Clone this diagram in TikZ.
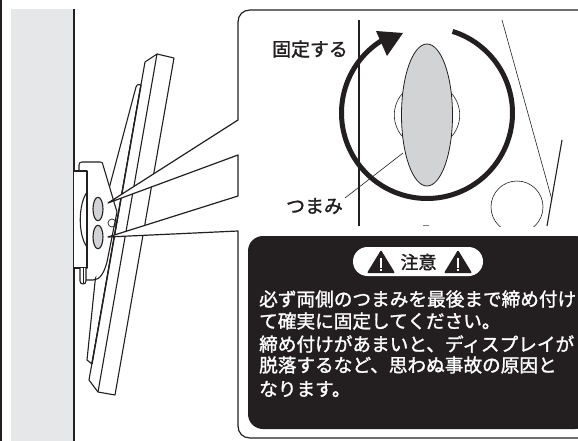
\documentclass[tikz,border=0pt]{standalone}
\usepackage{fontspec}
\usetikzlibrary{shapes.geometric}
\setmainfont[AutoFakeBold=1.5]{Noto Sans CJK JP}
\definecolor{ink}{HTML}{231F20}
\definecolor{wall}{HTML}{E6E7E8}
\definecolor{knob}{HTML}{D1D3D4}
\tikzset{
  part/.style={draw=ink,line width=1.1pt,line join=round},
  fine/.style={draw=ink,line width=0.6pt},
  label/.style={text=ink,font=\bfseries\fontsize{18.9}{18.9}\selectfont,inner sep=0pt},
  notice/.style={text=white,font=\bfseries\fontsize{18.65}{18.65}\selectfont,inner sep=0pt,anchor=west},
  knobshape/.style={part,fill=knob,ellipse,minimum width=10pt,minimum height=23.5pt,inner sep=0pt},
}
\begin{document}
\begin{tikzpicture}[x=1pt,y=-1pt]
\useasboundingbox (0,0) rectangle (578,441);
\fill[white] (0,0) rectangle (578,441);
\fill[ink] (0,0) rectangle (2,441);
% wall
\fill[wall] (11,9) rectangle (74,441);
\draw[part,line width=1.3pt] (74,9) -- (74,441);
% display
\draw[part,fill=white] (141,85) .. controls (138,84) and (136,85) .. (136,87) -- (106,200) -- (95,282) -- (87,360) -- (92,364) -- cycle;
\draw[part,fill=white] (145,62) -- (157,54) -- (174,58) -- (115,395) -- (98,392) -- (89,380) -- cycle;
\draw[part] (157,54) -- (98,392);
% plate and bracket
\fill[white] (79,172) -- (79,165) -- (103,165) -- (117,212) -- (107,262) -- (93,280) -- (79,280) -- cycle;
\draw[part] (79,171) -- (79,165) .. controls (79,163) and (80,162) .. (82,162) -- (100,162) .. controls (102,162) and (103,163) .. (103,165) -- (117,212) -- (115,222) -- (107,262) .. controls (104,273) and (100,280) .. (93,280) -- (86,280);
\draw[part,line width=1.4pt] (141,85) -- (92,364);
\draw[part,fill=white] (74,171) -- (87,171) -- (87,268) -- (74,268);
\draw[part] (87,192) .. controls (78,205) and (78,235) .. (87,247);
\draw[part,fill=white] (80,268) -- (80,281) .. controls (80,285) and (86,285) .. (86,281) -- (86,268);
\draw[fine] (83,268) -- (83,283);
\node[knobshape] (knobA) at (98,209) {};
\node[knobshape] (knobB) at (98,237) {};
\draw[fine,line width=0.7pt] (112,223) circle (4);
% callout
\draw[part,line width=1.2pt,fill=white] (578,10) -- (250,10) .. controls (243,10) and (238,15) .. (238,22) -- (238,120) -- (108,203) -- (238,155) -- (238,196) -- (108,237) -- (238,231) -- (238,426) .. controls (238,433) and (243,438) .. (250,438) -- (578,438);
% detail view
\begin{scope}
\clip (240,12) rectangle (578,226);
\draw[fine] (427,115) circle (32.7);
\draw[fine] (502,20) -- (552,200);
\draw[part] (562,140) -- (547,226);
\draw[fine] (517,207) circle (26);
\end{scope}
\draw[fine,draw=gray] (423,225.6) -- (429,225.6);
\draw[part] (359,20) -- (359,226);
\draw[line width=5pt,draw=ink,line join=round] plot[domain=72.6:-239,samples=150] ({427+85.5*cos(\x)},{113-85.5*sin(\x)});
\fill[ink] (403,33) -- (376,31) -- (387,56) -- cycle;
\draw[part,fill=knob,line width=0.8pt] (427,115) ellipse (25.5 and 71);
\draw[fine] (403,153) -- (345,198);
\node[label] (fix) at (310,49) {固定する};
\node[label] (grip) at (314.5,206) {つまみ};
% notice
\fill[ink,rounded corners=15pt] (248,236) rectangle (590,429);
\fill[white,rounded corners=14.5pt] (353,247) rectangle (483,276);
\fill[ink,rounded corners=1pt] (381,250) -- (395,273) -- (367,273) -- cycle;
\fill[ink,rounded corners=1pt] (458,250) -- (472,273) -- (444,273) -- cycle;
\draw[white,line width=1.3pt] (381,258) -- (381,267.5) (381,269) -- (381,271);
\draw[white,line width=1.3pt] (458,258) -- (458,267.5) (458,269) -- (458,271);
\node[label,font=\bfseries\fontsize{18}{18}\selectfont] (head) at (418.5,262) {注意};
\node[notice] (l1) at (259,299) {必ず両側のつまみを最後まで締め付け};
\node[notice] (l2) at (259,321) {て確実に固定してください。};
\node[notice] (l3) at (259,344) {締め付けがあまいと、ディスプレイが};
\node[notice] (l4) at (259,365) {脱落するなど、思わぬ事故の原因と};
\node[notice] (l5) at (259,389) {なります。};
\end{tikzpicture}
\end{document}
